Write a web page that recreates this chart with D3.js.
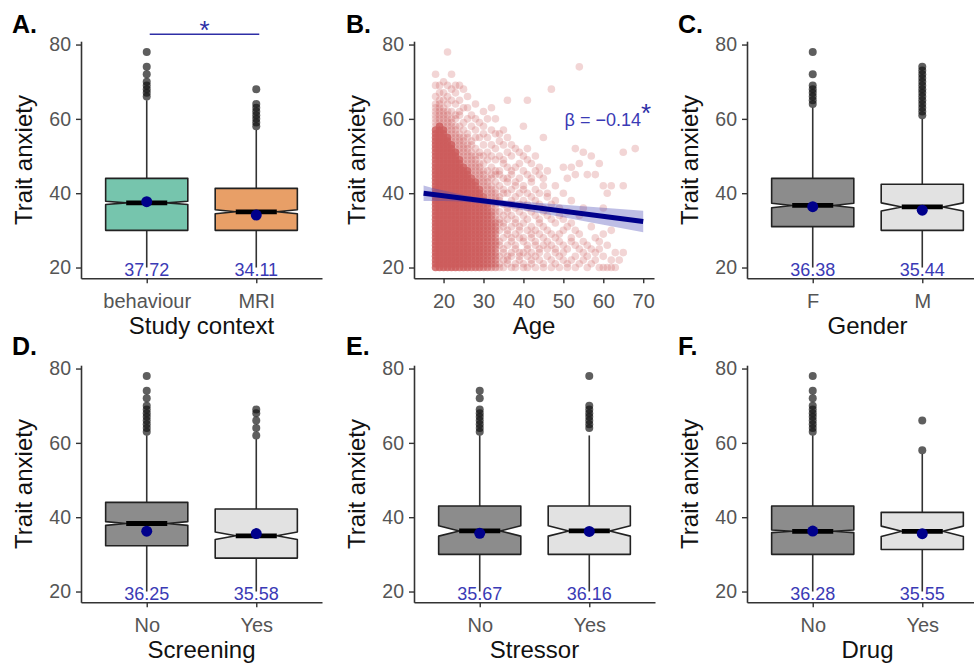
<!DOCTYPE html>
<html><head><meta charset="utf-8">
<script src="https://cdn.jsdelivr.net/npm/d3@7"></script>
<style>body{margin:0;background:#fff} svg{display:block} text{font-family:"Liberation Sans",Arial,sans-serif}</style>
</head><body><svg id="c" width="974" height="667"></svg>
<script>
// ---------------- DATA ----------------
const yTicks = [20, 40, 60, 80];
const ageTicks = [20, 30, 40, 50, 60, 70];
const panelLabels = ['A.', 'B.', 'C.', 'D.', 'E.', 'F.'];
const xTitles = ['Study context', 'Age', 'Gender', 'Screening', 'Stressor', 'Drug'];
const yTitle = 'Trait anxiety';

// A. Study context
const studyCategories = ['behaviour', 'MRI'];
const studyQ1 = [30, 30];
const studyMedian = [37.4, 35];
const studyQ3 = [44, 41.3];
const studyWhiskLo = [20, 20];
const studyWhiskHi = [65, 57];
const studyMeans = [37.72, 34.11];
const studyNotch = [0.45, 0.55];
const studyOutliers = [[66, 67, 68, 69, 70, 72, 74, 78], [58, 59, 60, 61, 62, 63, 64, 68]];
const studyFills = ['#76C5AD', '#E89F67'];

// C. Gender
const genderCategories = ['F', 'M'];
const genderQ1 = [31, 30];
const genderMedian = [36.7, 36.3];
const genderQ3 = [44, 42.4];
const genderWhiskLo = [20, 20];
const genderWhiskHi = [63, 60];
const genderMeans = [36.38, 35.44];
const genderNotch = [0.6, 1.1];
const genderOutliers = [[64, 65, 66, 67, 68, 69, 72, 78], [61, 62, 63, 64, 65, 66, 67, 68, 69, 70, 71, 72, 73, 74]];

// D. Screening
const screeningCategories = ['No', 'Yes'];
const screeningQ1 = [32.3, 29];
const screeningMedian = [38.3, 35];
const screeningQ3 = [44, 42.2];
const screeningWhiskLo = [20, 20];
const screeningWhiskHi = [62, 61];
const screeningMeans = [36.25, 35.58];
const screeningNotch = [0.5, 1.0];
const screeningOutliers = [[63, 64, 65, 66, 67, 68, 69, 70, 72, 74, 78], [62, 64, 66, 68, 69]];

// E. Stressor
const stressorCategories = ['No', 'Yes'];
const stressorQ1 = [30, 30];
const stressorMedian = [36.3, 36.3];
const stressorQ3 = [43, 43];
const stressorWhiskLo = [20, 20];
const stressorWhiskHi = [62, 62];
const stressorMeans = [35.67, 36.16];
const stressorNotch = [1.4, 1.4];
const stressorOutliers = [[63, 64, 65, 66, 67, 68, 69, 72, 74], [64, 65, 66, 67, 68, 69, 70, 78]];

// F. Drug
const drugCategories = ['No', 'Yes'];
const drugQ1 = [30, 31.3];
const drugMedian = [36.2, 36.2];
const drugQ3 = [43, 41.3];
const drugWhiskLo = [20, 20];
const drugWhiskHi = [62, 57];
const drugMeans = [36.28, 35.55];
const drugNotch = [0.35, 1.4];
const drugOutliers = [[63, 64, 65, 66, 67, 68, 69, 70, 72, 74, 78], [58, 66]];

const greyFills = ['#8C8C8C', '#E2E2E2'];

// B. Age scatter: blocks of occupied scores [age, lowScore, highScore, overlapLevel]
const scatterBlocks = [
  [18,20,57,6],[19,20,58,6],[20,20,57,6],[21,20,55,6],[22,20,53,6],[23,20,51,6],[24,20,49,5],[25,20,47,5],
  [26,20,46,5],[27,20,44,4],[28,20,43,4],[29,20,41,4],[30,20,39,3],[31,20,37,3],[32,20,35,2],[33,20,32,2],
  [18,58,64,1],[19,59,65,1],[20,58,63,1],[21,56,62,1],[22,54,60,1],[23,52,58,1],[24,50,56,1],[25,48,55,1],
  [26,47,53,1],[27,45,51,1],[28,44,50,1],[29,42,48,1],[30,40,46,1],[31,38,44,1],[32,36,42,1],[33,33,40,1]
];
// B. individual scores per age
const scatterSparse = [
  [18,[66,69,72]],[19,[67,69]],[20,[65,67,70]],[21,[64,66,69,78]],[22,[62,65,68,72]],[23,[60,61,64,67,69]],
  [24,[58,61,62,65,69]],[25,[57,59,63,68]],[26,[55,56,60,63,66]],[27,[53,54,58,61]],[28,[52,55,57,60,64]],
  [29,[50,51,55,59]],[30,[48,50,53,56,58,62]],
  [31,[46,49,51,55,60]],[32,[44,45,47,50,53,57,63]],[33,[41,43,45,46,49,52,56,60]],
  [34,[20,21,23,26,27,30,32,33,35,38,39,42,45,46,50,54,56]],
  [35,[20,22,24,25,28,31,32,34,37,40,41,44,48,49,53,57]],
  [36,[21,22,23,26,29,30,33,35,36,40,43,44,47,51,55,65]],
  [37,[20,23,24,27,28,31,34,37,38,41,45,46,50,53]],
  [38,[20,21,25,26,29,32,33,36,39,42,43,47,52]],
  [39,[22,23,24,28,30,31,35,37,40,44,48,51]],
  [40,[20,21,24,27,28,32,34,38,41,42,46,50,58]],
  [41,[20,23,25,26,30,33,36,37,40,45,49,52,65]],
  [42,[21,22,24,28,29,31,35,39,43,44,48]],
  [43,[20,23,26,27,30,34,38,41,46,50]],
  [44,[22,24,25,29,32,33,37,40,45,47]],
  [45,[20,21,26,28,31,35,36,42,44,55]],
  [46,[23,25,27,30,34,39,40,46]],
  [47,[20,22,26,29,33,37,68]],
  [48,[21,24,25,28,32,38,42]],
  [49,[20,23,27,29,34,36]],
  [50,[22,24,26,30,33,40,47]],
  [51,[20,21,25,31,35,44]],
  [52,[22,27,28,32,38,47]],
  [53,[20,23,26,30,45,52]],
  [54,[21,25,29,34,48,74]],
  [55,[22,24,27,36,51]],
  [56,[20,23,26,45]],
  [57,[21,25,31,50]],
  [58,[22,24,28,45]],
  [59,[20,25,27,48]],
  [60,[20,23,29,36,42]],
  [61,[20,26,40]],
  [62,[20,22,30,42]],
  [63,[20,24]],
  [64,[22]],
  [65,[24,42,51]],
  [68,[52]]
];
// B. regression fit and confidence band
const regAges = [15, 70];
const regFit = [40.0, 32.4];
const ciAges = [15, 20, 25, 30, 35, 40, 50, 60, 70];
const ciLow  = [37.9, 37.9, 37.7, 37.1, 36.3, 35.4, 33.5, 31.5, 29.5];
const ciHigh = [42.1, 40.7, 39.5, 38.7, 38.1, 37.7, 36.9, 36.1, 35.3];
const betaLabel = 'β = −0.14';
const sigLabel = '*';

// ---------------- DRAW ----------------
const svg = d3.select('#c');
const colX = [0, 333, 666];
const rowY = [0, 324];
const FONT_TICK = 19.5, FONT_CAT = 20, FONT_TITLE = 24;
const TXT_BLUE = '#3A3AB5';
const AX_COL = '#333333';

function yScaleFor(dy) {
  return d3.scaleLinear().domain([17.1, 80.9]).range([278.3 + dy, 41.2 + dy]);
}

function styleAxis(g, fs) {
  g.selectAll('path.domain').attr('stroke', AX_COL).attr('stroke-width', 1.6);
  g.selectAll('.tick line').attr('stroke', AX_COL).attr('stroke-width', 1.4);
  g.selectAll('.tick text').attr('fill', '#555').attr('font-size', fs)
    .attr('font-family', '"Liberation Sans",Arial,sans-serif');
}

function frame(i, xScale, y, xTickVals, xTickFmt) {
  const dx = colX[i % 3], dy = rowY[Math.floor(i / 3)];
  svg.append('text').attr('x', 12 + dx + (i % 3 === 1 ? 1 : 0)).attr('y', 33 + dy - (dy ? 2 : 0))
    .attr('font-size', 25).attr('font-weight', 'bold').attr('fill', '#000').text(panelLabels[i]);
  const gy = svg.append('g').attr('transform', `translate(${81 + dx},0)`)
    .call(d3.axisLeft(y).tickValues(yTicks).tickSize(5).tickSizeOuter(0).tickPadding(5));
  styleAxis(gy, FONT_TICK);
  const ax = d3.axisBottom(xScale).tickValues(xTickVals).tickSize(5).tickSizeOuter(0).tickPadding(11);
  if (xTickFmt) ax.tickFormat(xTickFmt);
  const gx = svg.append('g').attr('transform', `translate(0,${278.3 + dy})`).call(ax);
  styleAxis(gx, FONT_CAT);
  const r = xScale.range();
  svg.append('text').attr('x', (r[0] + r[1]) / 2).attr('y', 334 + dy)
    .attr('text-anchor', 'middle').attr('font-size', FONT_TITLE).attr('fill', '#111').text(xTitles[i]);
  svg.append('text').attr('transform', `translate(${32 + dx},${160 + dy}) rotate(-90)`)
    .attr('text-anchor', 'middle').attr('font-size', FONT_TITLE).attr('fill', '#111').text(yTitle);
}

function boxPanel(i, cats, q1, med, q3, wlo, whi, means, notch, outl, fills) {
  const dx = colX[i % 3], dy = rowY[Math.floor(i / 3)];
  const y = yScaleFor(dy);
  const x = d3.scaleLinear().domain([0.4, 2.6]).range([81 + dx, 322 + dx]);
  const bw = (x(1.75) - x(1));
  const g = svg.append('g');
  cats.forEach((c, k) => {
    const cx = x(k + 1), L = cx - bw / 2, R = cx + bw / 2, nL = cx - bw / 4, nR = cx + bw / 4;
    g.append('line').attr('x1', cx).attr('x2', cx).attr('y1', y(q3[k])).attr('y2', y(whi[k]))
      .attr('stroke', AX_COL).attr('stroke-width', 1.6);
    g.append('line').attr('x1', cx).attr('x2', cx).attr('y1', y(q1[k])).attr('y2', y(wlo[k]))
      .attr('stroke', AX_COL).attr('stroke-width', 1.6);
    g.selectAll(null).data(outl[k]).join('circle')
      .attr('cx', cx).attr('cy', d => y(d)).attr('r', 4)
      .attr('fill', '#111').attr('fill-opacity', 0.68);
    const nu = med[k] + notch[k], nl = med[k] - notch[k];
    const pts = [[L, q3[k]], [L, nu], [nL, med[k]], [L, nl], [L, q1[k]], [R, q1[k]], [R, nl], [nR, med[k]], [R, nu], [R, q3[k]]];
    g.append('path').attr('d', d3.line().x(p => p[0]).y(p => y(p[1]))(pts) + 'Z')
      .attr('fill', fills[k]).attr('stroke', '#222').attr('stroke-width', 1.6).attr('stroke-linejoin', 'round');
    g.append('line').attr('x1', nL).attr('x2', nR).attr('y1', y(med[k])).attr('y2', y(med[k]))
      .attr('stroke', '#000').attr('stroke-width', 4.8);
    g.append('circle').attr('cx', cx).attr('cy', y(means[k])).attr('r', 5.5).attr('fill', '#00008B');
    g.append('text').attr('x', cx).attr('y', y(20) + 8).attr('text-anchor', 'middle')
      .attr('font-size', 18).attr('fill', TXT_BLUE).text(means[k].toFixed(2));
  });
  frame(i, x, y, [1, 2], (d) => cats[d - 1]);
  return { x, y };
}

// A
const A = boxPanel(0, studyCategories, studyQ1, studyMedian, studyQ3, studyWhiskLo, studyWhiskHi, studyMeans, studyNotch, studyOutliers, studyFills);
svg.append('line').attr('x1', A.x(1) + 3).attr('x2', A.x(2) + 3).attr('y1', 34.3).attr('y2', 34.3)
  .attr('stroke', '#2E2EA6').attr('stroke-width', 1.5);
svg.append('text').attr('x', (A.x(1) + A.x(2)) / 2 + 3).attr('y', 38.5).attr('text-anchor', 'middle')
  .attr('font-size', 26).attr('fill', '#2E2EA6').text(sigLabel);

// B scatter
(function () {
  const i = 1, dy = 0;
  const y = yScaleFor(dy);
  const x = d3.scaleLinear().domain([12.6, 72.7]).range([414, 654]);
  const cells = [];
  scatterBlocks.forEach(([age, lo, hi, n]) => { for (let s = lo; s <= hi; s++) cells.push({ age, s, n }); });
  scatterSparse.forEach(([age, list]) => list.forEach(s => cells.push({ age, s, n: 1 })));
  const a = 0.26;
  svg.append('g').selectAll('circle').data(cells).join('circle')
    .attr('cx', d => x(d.age)).attr('cy', d => y(d.s)).attr('r', 3.8)
    .attr('fill', '#CD5C5C').attr('fill-opacity', d => 1 - Math.pow(1 - a, d.n));
  const band = ciAges.map((ag, k) => ({ ag, lo: ciLow[k], hi: ciHigh[k] }));
  svg.append('path').attr('d', d3.area().x(d => x(d.ag)).y0(d => y(d.lo)).y1(d => y(d.hi)).curve(d3.curveMonotoneX)(band))
    .attr('fill', '#4444B4').attr('fill-opacity', 0.35);
  svg.append('path').attr('d', d3.line().x(d => x(d[0])).y(d => y(d[1]))(regAges.map((ag, k) => [ag, regFit[k]])))
    .attr('stroke', '#00008B').attr('stroke-width', 5).attr('fill', 'none');
  svg.append('text').attr('x', 641).attr('y', 126).attr('text-anchor', 'end')
    .attr('font-size', 18).attr('fill', TXT_BLUE).text(betaLabel);
  svg.append('text').attr('x', 641).attr('y', 121.5).attr('font-size', 26).attr('fill', '#2E2EA6').text(sigLabel);
  frame(i, x, y, ageTicks, d3.format('d'));
})();

// C-F
boxPanel(2, genderCategories, genderQ1, genderMedian, genderQ3, genderWhiskLo, genderWhiskHi, genderMeans, genderNotch, genderOutliers, greyFills);
boxPanel(3, screeningCategories, screeningQ1, screeningMedian, screeningQ3, screeningWhiskLo, screeningWhiskHi, screeningMeans, screeningNotch, screeningOutliers, greyFills);
boxPanel(4, stressorCategories, stressorQ1, stressorMedian, stressorQ3, stressorWhiskLo, stressorWhiskHi, stressorMeans, stressorNotch, stressorOutliers, greyFills);
boxPanel(5, drugCategories, drugQ1, drugMedian, drugQ3, drugWhiskLo, drugWhiskHi, drugMeans, drugNotch, drugOutliers, greyFills);
</script></body></html>
